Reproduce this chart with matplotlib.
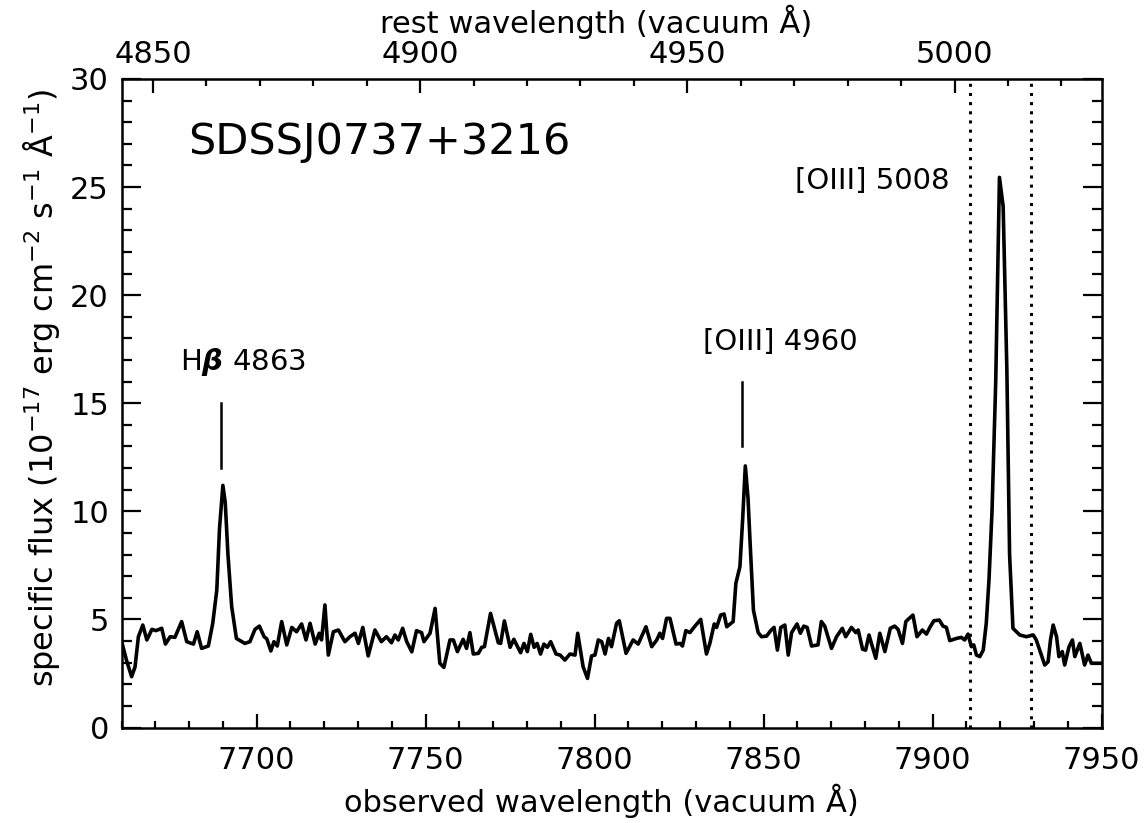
import numpy as np
import matplotlib
matplotlib.use('Agg')
import matplotlib.pyplot as plt
from matplotlib.ticker import MultipleLocator, FixedLocator

# spectrum (observed wavelength, flux in 1e-17 erg/cm2/s/A)
wave = [7660.0, 7661.5, 7663.0, 7664.0, 7665.0, 7666.3, 7667.5, 7669.0, 7670.2, 7671.9,
        7673.0, 7674.4, 7675.8, 7677.8, 7679.3, 7681.3, 7682.4, 7683.7, 7685.7, 7687.0,
        7688.2, 7689.0, 7690.0, 7690.7, 7691.5, 7692.6, 7694.0, 7696.5, 7698.0, 7699.5,
        7700.8, 7702.2, 7703.0, 7704.2, 7705.1, 7706.1, 7707.4, 7708.9, 7710.4, 7711.8,
        7713.3, 7714.6, 7715.8, 7717.3, 7718.5, 7719.2, 7720.2, 7721.2, 7722.7, 7724.2,
        7726.1, 7727.6, 7729.1, 7730.1, 7731.4, 7733.0, 7735.0, 7736.9, 7738.4, 7739.9,
        7740.9, 7741.9, 7743.2, 7744.4, 7745.9, 7747.3, 7748.8, 7749.5, 7751.3, 7752.8,
        7754.2, 7755.4, 7757.2, 7758.2, 7759.4, 7761.1, 7762.1, 7763.1, 7764.1, 7765.6,
        7766.6, 7767.4, 7769.2, 7771.5, 7772.2, 7773.3, 7775.0, 7776.1, 7778.1, 7779.1,
        7780.1, 7781.1, 7782.1, 7783.0, 7784.0, 7785.0, 7786.0, 7787.0, 7788.6, 7789.8,
        7791.2, 7792.7, 7794.2, 7795.0, 7796.6, 7797.9, 7799.1, 7800.1, 7801.1, 7802.1,
        7803.1, 7804.1, 7805.0, 7806.5, 7807.3, 7809.3, 7811.4, 7812.9, 7815.2, 7816.9,
        7818.4, 7819.3, 7820.1, 7821.3, 7822.3, 7824.1, 7825.3, 7826.0, 7827.0, 7828.2,
        7829.7, 7831.4, 7833.1, 7834.1, 7835.4, 7836.1, 7837.3, 7838.3, 7839.1, 7841.0,
        7841.8, 7843.0, 7843.8, 7844.6, 7845.4, 7846.0, 7847.0, 7848.4, 7849.4, 7850.9,
        7852.1, 7853.1, 7854.1, 7855.1, 7856.3, 7857.3, 7858.3, 7859.9, 7860.9, 7861.9,
        7862.9, 7864.2, 7866.1, 7867.1, 7868.1, 7870.1, 7871.6, 7873.3, 7874.3, 7876.0,
        7877.3, 7878.0, 7879.3, 7880.2, 7881.2, 7883.2, 7884.4, 7885.9, 7887.5, 7888.8,
        7889.8, 7891.1, 7892.1, 7893.1, 7894.2, 7895.4, 7897.0, 7898.2, 7899.2, 7900.4,
        7902.0, 7903.1, 7904.1, 7905.1, 7907.1, 7908.5, 7909.5, 7910.5, 7911.5, 7912.2,
        7913.0, 7914.0, 7915.0, 7915.9, 7916.7, 7917.6, 7918.7, 7919.8, 7920.9, 7922.0,
        7922.8, 7923.8, 7925.8, 7927.8, 7929.8, 7930.7, 7931.7, 7933.2, 7934.2, 7934.9,
        7935.7, 7936.7, 7937.4, 7938.4, 7939.1, 7940.4, 7941.4, 7942.1, 7943.6, 7945.0,
        7946.0, 7947.0, 7949.5, 7950.0]
flux = [4.0, 3.1, 2.35, 2.8, 4.2, 4.74, 4.05, 4.54, 4.48, 4.59,
        3.86, 4.2, 4.17, 4.9, 3.97, 3.86, 4.43, 3.66, 3.77, 4.82,
        6.36, 9.2, 11.2, 10.4, 8.0, 5.6, 4.12, 3.89, 3.97, 4.54,
        4.69, 4.2, 4.1, 3.54, 3.97, 3.77, 4.9, 3.82, 4.63, 4.43,
        4.79, 4.05, 4.82, 3.86, 4.36, 4.05, 5.67, 3.35, 4.43, 4.51,
        3.97, 4.2, 4.36, 3.89, 4.63, 3.31, 4.51, 3.97, 4.2, 3.92,
        4.28, 4.05, 4.59, 3.97, 3.5, 4.48, 4.39, 3.97, 4.36, 5.51,
        2.97, 2.78, 4.05, 4.05, 3.51, 4.08, 3.66, 4.39, 3.4, 3.43,
        3.71, 3.74, 5.28, 3.92, 3.89, 4.93, 3.71, 4.08, 3.46, 3.89,
        3.51, 4.31, 3.71, 3.89, 3.4, 3.86, 3.71, 3.97, 3.4, 3.35,
        3.12, 3.4, 3.35, 4.36, 2.81, 2.27, 3.31, 3.35, 4.05, 3.97,
        3.4, 4.12, 3.74, 4.82, 4.94, 3.43, 4.05, 3.86, 4.66, 3.74,
        4.05, 4.36, 4.12, 5.05, 5.05, 3.86, 3.89, 3.77, 4.48, 4.39,
        4.69, 5.0, 3.4, 3.89, 4.79, 4.63, 5.2, 5.25, 4.66, 4.9,
        6.67, 7.44, 9.6, 12.1, 10.6, 8.6, 5.43, 4.39, 4.2, 4.23,
        4.48, 4.63, 3.58, 4.63, 4.74, 3.35, 4.39, 4.79, 4.36, 4.69,
        4.63, 3.77, 3.82, 4.9, 4.69, 3.66, 4.2, 4.59, 4.2, 4.63,
        4.39, 4.51, 3.62, 3.58, 4.28, 3.2, 4.36, 3.51, 4.59, 4.69,
        4.54, 3.89, 4.9, 5.05, 5.2, 4.2, 4.51, 4.32, 4.63, 4.94,
        4.97, 4.69, 4.63, 4.02, 4.12, 4.17, 4.05, 4.32, 3.74, 3.82,
        3.35, 3.28, 3.58, 4.82, 6.82, 10.0, 16.0, 25.45, 24.1, 16.5,
        8.0, 4.59, 4.28, 4.2, 4.28, 4.05, 3.58, 2.89, 3.04, 4.05,
        4.74, 4.2, 3.28, 3.51, 2.89, 3.74, 4.05, 3.28, 3.89, 2.89,
        3.35, 2.97, 2.97, 2.97]

one_plus_z = 1.5813
obj_name = 'SDSSJ0737+3216'

# emission line markers: rest wavelength, marker bottom/top, label
line_rest = [4862.68, 4960.30]
line_lo = [12.0, 13.0]
line_hi = [15.0, 16.0]
line_labels = [r'H$\boldsymbol{\beta}$ 4863', '[OIII] 4960', '[OIII] 5008']
label_x = [7677.3, 7832.1, 7905.0]
label_y = [16.9, 17.85, 25.3]

# dotted window around [OIII] 5008
window = [7911.0, 7929.0]

rest_ticks = [4850, 4900, 4950, 5000]

plt.rcParams['font.family'] = 'DejaVu Sans'
plt.rcParams['mathtext.fontset'] = 'dejavusans'

fig = plt.figure(figsize=(11.48, 8.23), dpi=100)
ax = fig.add_axes([121.5 / 1148, 1 - 727.5 / 823, 980 / 1148, 648.5 / 823])

ax.plot(wave, flux, color='black', lw=2.6)

for w in window:
    ax.axvline(w, color='black', lw=2.2, linestyle=(0, (1, 2)))

for w, lo, hi in zip(line_rest, line_lo, line_hi):
    ax.plot([w * one_plus_z] * 2, [lo, hi], color='black', lw=1.8)

ax.text(label_x[0], label_y[0], line_labels[0], fontsize=21, va='center', ha='left')
ax.text(label_x[1], label_y[1], line_labels[1], fontsize=21, va='center', ha='left')
ax.text(label_x[2], label_y[2], line_labels[2], fontsize=21, va='center', ha='right')
ax.text(7679.7, 27.1, obj_name, fontsize=31, va='center', ha='left')

ax.set_xlim(7660, 7950)
ax.set_ylim(0, 30)
ax.xaxis.set_major_locator(MultipleLocator(50))
ax.xaxis.set_minor_locator(MultipleLocator(10))
ax.yaxis.set_major_locator(MultipleLocator(5))
ax.yaxis.set_minor_locator(MultipleLocator(1))
ax.tick_params(which='both', direction='in', width=1.6, labelsize=22, right=True, top=False)
ax.tick_params(axis='x', which='major', length=10, pad=13)
ax.tick_params(axis='x', which='minor', length=5)
ax.tick_params(axis='y', which='major', length=14, pad=9)
ax.tick_params(axis='y', which='minor', length=7)
for s in ax.spines.values():
    s.set_linewidth(1.8)

ax.set_xlabel('observed wavelength (vacuum Å)', fontsize=22, labelpad=2)
ax.xaxis.set_label_coords(0.49, -0.087)
ax.set_ylabel(r'specific flux (10$^{-17}$ erg cm$^{-2}$ s$^{-1}$ Å$^{-1}$)', fontsize=23)
ax.yaxis.set_label_coords(-0.061, 0.524)

# rest-frame axis on top
top = ax.secondary_xaxis('top', functions=(lambda x: x / one_plus_z, lambda x: x * one_plus_z))
top.xaxis.set_major_locator(FixedLocator(rest_ticks))
top.xaxis.set_minor_locator(FixedLocator(np.arange(4850, 5030, 10)))
top.tick_params(which='both', direction='in', width=1.6, labelsize=22, pad=7)
top.tick_params(which='major', length=10)
top.tick_params(which='minor', length=5)
fig.text(596 / 1148, 1 - 22 / 823, 'rest wavelength (vacuum Å)', fontsize=22,
         ha='center', va='center')

fig.savefig('out.png', dpi=100)
